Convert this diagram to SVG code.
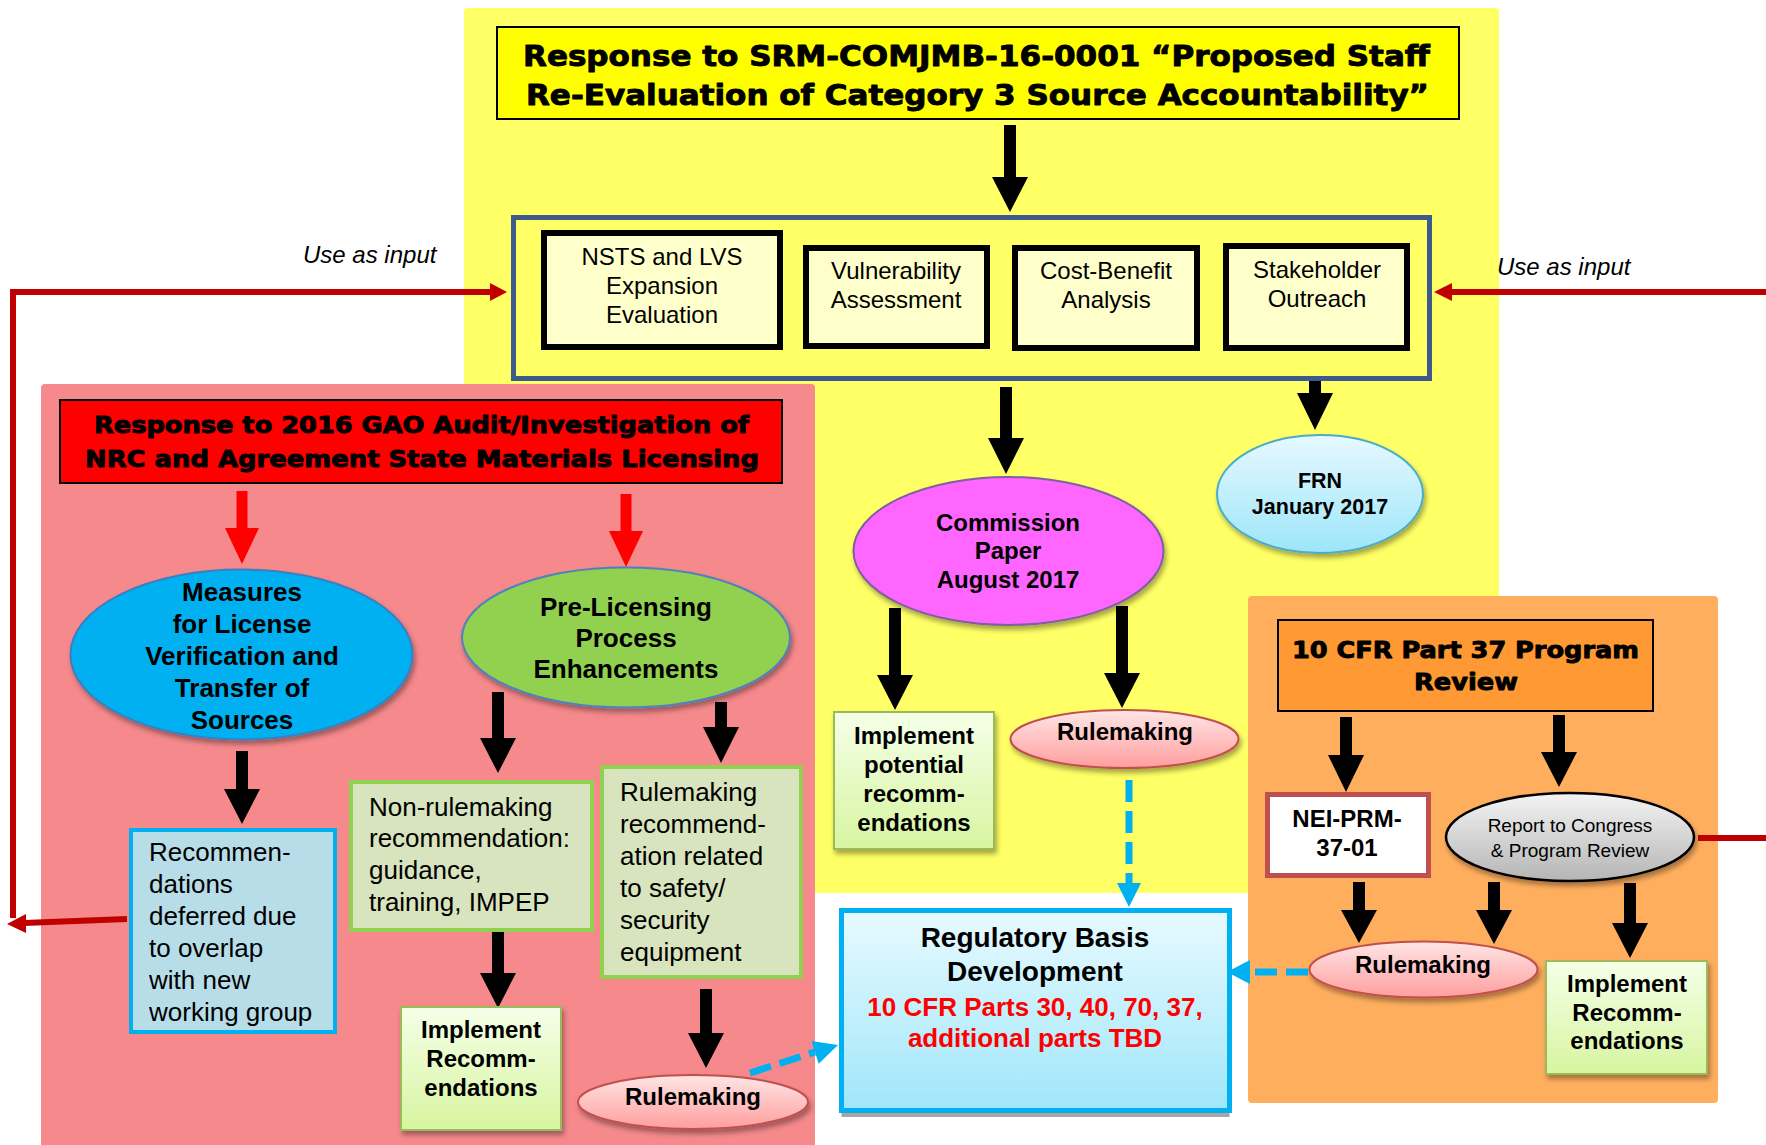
<svg xmlns="http://www.w3.org/2000/svg" width="1766" height="1145" viewBox="0 0 1766 1145">
<defs>
<style>
.t{font-family:"Liberation Sans",Arial,sans-serif;fill:#000}
.b{font-weight:bold}
.i{font-style:italic}
.c{text-anchor:middle}
.h{font-family:"DejaVu Sans","Liberation Sans",sans-serif;font-weight:bold;fill:#000;stroke:#000;stroke-width:0.9;stroke-linejoin:round}
.blk{fill:#000}
.red{fill:#FF0000}
.rl{stroke:#C00000;stroke-width:6;fill:none}
.rh{fill:#C00000}
.dash{stroke:#00B0F0;stroke-width:7;stroke-dasharray:22 9;fill:none}
.dh{fill:#00B0F0}
.wb{fill:#FFFFCC;stroke:#000;stroke-width:6}
.impl{fill:url(#gImpl);stroke:#9BBB59;stroke-width:2}
.rule{fill:url(#gRule);stroke:#C0504D;stroke-width:2}
.grn{fill:#D7E4BD;stroke:#92D050;stroke-width:4}
</style>
<linearGradient id="gImpl" x1="0" y1="0" x2="0" y2="1"><stop offset="0" stop-color="#F5FFE8"/><stop offset="1" stop-color="#D7F5A0"/></linearGradient>
<linearGradient id="gRule" x1="0" y1="0" x2="0" y2="1"><stop offset="0" stop-color="#FFE6E6"/><stop offset="1" stop-color="#FF9E9E"/></linearGradient>
<linearGradient id="gFRN" x1="0" y1="0" x2="0" y2="1"><stop offset="0" stop-color="#E6F9FF"/><stop offset="1" stop-color="#9DE5FA"/></linearGradient>
<linearGradient id="gRep" x1="0" y1="0" x2="0" y2="1"><stop offset="0" stop-color="#F4F4F4"/><stop offset="1" stop-color="#B5B5B5"/></linearGradient>
<linearGradient id="gReg" x1="0" y1="0" x2="0" y2="1"><stop offset="0" stop-color="#E8FAFF"/><stop offset="1" stop-color="#A0E6FA"/></linearGradient>
<filter id="sh" x="-20%" y="-20%" width="140%" height="160%"><feDropShadow dx="2" dy="4" stdDeviation="2.5" flood-color="#000" flood-opacity="0.35"/></filter>
</defs>

<g id="panels">
<rect x="464" y="8" width="1035" height="885" rx="4" fill="#FFFF66"/>
<rect x="41" y="384" width="774" height="770" rx="4" fill="#F5898C"/>
<rect x="1248" y="596" width="470" height="507" rx="4" fill="#FFAE5E"/>
</g>

<g id="labels">
<text class="t i" x="303" y="263" font-size="24">Use as input</text>
<text class="t i" x="1497" y="275" font-size="24">Use as input</text>
</g>

<g id="connectors">
<polygon class="blk" points="1004,125 1016,125 1016,177 1028,177 1010,212 992,177 1004,177"/>
<polygon class="blk" points="1000,387 1012,387 1012,438 1024,438 1006,474 988,438 1000,438"/>
<polygon class="blk" points="1309,351 1321,351 1321,393 1333,393 1315,430 1297,393 1309,393"/>
<polygon class="blk" points="889,608 901,608 901,675 913,675 895,710 877,675 889,675"/>
<polygon class="blk" points="1116,606 1128,606 1128,673 1140,673 1122,708 1104,673 1116,673"/>
<polygon class="red" points="236.5,491 247.5,491 247.5,528 259,528 242,564 225,528 236.5,528"/>
<polygon class="red" points="620.5,494 631.5,494 631.5,531 643,531 626,567 609,531 620.5,531"/>
<polygon class="blk" points="236,751 248,751 248,789 260,789 242,824 224,789 236,789"/>
<polygon class="blk" points="492,692 504,692 504,738 516,738 498,773 480,738 492,738"/>
<polygon class="blk" points="715,702 727,702 727,727 739,727 721,763 703,727 715,727"/>
<polygon class="blk" points="492,930 504,930 504,973 516,973 498,1008 480,973 492,973"/>
<polygon class="blk" points="700,989 712,989 712,1033 724,1033 706,1068 688,1033 700,1033"/>
<polygon class="blk" points="1340,717 1352,717 1352,755 1364,755 1346,792 1328,755 1340,755"/>
<polygon class="blk" points="1553,715 1565,715 1565,752 1577,752 1559,787 1541,752 1553,752"/>
<polygon class="blk" points="1353,882 1365,882 1365,910 1377,910 1359,943 1341,910 1353,910"/>
<polygon class="blk" points="1488,882 1500,882 1500,910 1512,910 1494,944 1476,910 1488,910"/>
<polygon class="blk" points="1624,883 1636,883 1636,923 1648,923 1630,958 1612,923 1624,923"/>
<!-- red feedback connectors -->
<polyline class="rl" points="13,918 13,292 491,292"/>
<polygon class="rh" points="490,283 507,292 490,301"/>
<line class="rl" x1="127" y1="919" x2="24" y2="923"/>
<polygon class="rh" points="26,914 7,924 26,933"/>
<line class="rl" x1="1766" y1="292" x2="1451" y2="292"/>
<polygon class="rh" points="1452,283 1434,292 1452,301"/>
<line class="rl" x1="1698" y1="838" x2="1766" y2="838"/>
<!-- dashed blue connectors -->
<line class="dash" x1="750" y1="1073" x2="815" y2="1052"/>
<polygon class="dh" points="818.7,1063.7 838,1045 811.5,1040.9"/>
<line class="dash" x1="1129" y1="780" x2="1129" y2="884"/>
<polygon class="dh" points="1117,883 1141,883 1129,907"/>
<line class="dash" x1="1308" y1="972" x2="1249" y2="972"/>
<polygon class="dh" points="1250,960 1250,984 1227,972"/>
</g>

<g id="title">
<rect x="497" y="27" width="962" height="92" fill="#FFFF00" stroke="#000" stroke-width="2"/>
<text class="h" x="523" y="66" font-size="28" textLength="907" lengthAdjust="spacingAndGlyphs">Response to SRM-COMJMB-16-0001 “Proposed Staff</text>
<text class="h" x="526" y="105" font-size="28" textLength="903" lengthAdjust="spacingAndGlyphs">Re-Evaluation of Category 3 Source Accountability”</text>
</g>

<g id="evaluation-group">
<rect x="513.5" y="217.5" width="916" height="161" fill="#FFFF66" stroke="#3D5A8A" stroke-width="5"/>
</g>
<g id="nsts">
<rect class="wb" x="544" y="233" width="236" height="114"/>
<text class="t c" font-size="24"><tspan x="662" y="265">NSTS and LVS</tspan><tspan x="662" y="294">Expansion</tspan><tspan x="662" y="323">Evaluation</tspan></text>
</g>
<g id="vulnerability">
<rect class="wb" x="806" y="248" width="181" height="98"/>
<text class="t c" font-size="24"><tspan x="896" y="279">Vulnerability</tspan><tspan x="896" y="308">Assessment</tspan></text>
</g>
<g id="cost-benefit">
<rect class="wb" x="1015" y="248" width="182" height="100"/>
<text class="t c" font-size="24"><tspan x="1106" y="279">Cost-Benefit</tspan><tspan x="1106" y="308">Analysis</tspan></text>
</g>
<g id="stakeholder">
<rect class="wb" x="1226" y="246" width="181" height="102"/>
<text class="t c" font-size="24"><tspan x="1317" y="278">Stakeholder</tspan><tspan x="1317" y="307">Outreach</tspan></text>
</g>

<g id="frn">
<ellipse cx="1320" cy="494" rx="103" ry="59" fill="url(#gFRN)" stroke="#4BACC6" stroke-width="2" filter="url(#sh)"/>
<text class="t b c" font-size="21.5"><tspan x="1320" y="488">FRN</tspan><tspan x="1320" y="514">January 2017</tspan></text>
</g>
<g id="commission">
<ellipse cx="1008.5" cy="551" rx="155" ry="74" fill="#FF66FF" stroke="#7F5FA0" stroke-width="2" filter="url(#sh)"/>
<text class="t b c" font-size="24"><tspan x="1008" y="531">Commission</tspan><tspan x="1008" y="559">Paper</tspan><tspan x="1008" y="588">August 2017</tspan></text>
</g>
<g id="implement-potential">
<rect class="impl" x="834" y="712" width="160" height="137" filter="url(#sh)"/>
<text class="t b c" font-size="24"><tspan x="914" y="744">Implement</tspan><tspan x="914" y="773">potential</tspan><tspan x="914" y="802">recomm-</tspan><tspan x="914" y="831">endations</tspan></text>
</g>
<g id="rulemaking-commission">
<ellipse class="rule" cx="1124.5" cy="739" rx="114" ry="29" filter="url(#sh)"/>
<text class="t b c" x="1125" y="740" font-size="24">Rulemaking</text>
</g>
<g id="regulatory-basis">
<rect x="841.5" y="917" width="388" height="200" fill="#A6A6A6"/>
<rect x="841.5" y="910.5" width="388" height="200" fill="url(#gReg)" stroke="#00B0F0" stroke-width="5"/>
<text class="t b c" font-size="28"><tspan x="1035" y="947">Regulatory Basis</tspan><tspan x="1035" y="981">Development</tspan></text>
<text class="t b c" font-size="26" style="fill:#FF0000"><tspan x="1035" y="1016">10 CFR Parts 30, 40, 70, 37,</tspan><tspan x="1035" y="1047">additional parts TBD</tspan></text>
</g>

<g id="gao">
<rect x="60" y="400" width="722" height="83" fill="#FF0000" stroke="#000" stroke-width="2"/>
<text class="h" x="94" y="433" font-size="23" textLength="655" lengthAdjust="spacingAndGlyphs">Response to 2016 GAO Audit/Investigation of</text>
<text class="h" x="85" y="467" font-size="23" textLength="674" lengthAdjust="spacingAndGlyphs">NRC and Agreement State Materials Licensing</text>
</g>
<g id="measures">
<ellipse cx="241.5" cy="654.5" rx="171" ry="85" fill="#00B0F0" stroke="#3A7FC0" stroke-width="2" filter="url(#sh)"/>
<text class="t b c" font-size="26"><tspan x="242" y="601">Measures</tspan><tspan x="242" y="633">for License</tspan><tspan x="242" y="665">Verification and</tspan><tspan x="242" y="697">Transfer of</tspan><tspan x="242" y="729">Sources</tspan></text>
</g>
<g id="pre-licensing">
<ellipse cx="626" cy="637.5" rx="164" ry="70" fill="#92D050" stroke="#4F81BD" stroke-width="2" filter="url(#sh)"/>
<text class="t b c" font-size="26"><tspan x="626" y="616">Pre-Licensing</tspan><tspan x="626" y="647">Process</tspan><tspan x="626" y="678">Enhancements</tspan></text>
</g>
<g id="deferred">
<rect x="131" y="830" width="204" height="202" fill="#B7DDE8" stroke="#00B0F0" stroke-width="4"/>
<text class="t" font-size="26"><tspan x="149" y="861">Recommen-</tspan><tspan x="149" y="893">dations</tspan><tspan x="149" y="925">deferred due</tspan><tspan x="149" y="957">to overlap</tspan><tspan x="149" y="989">with new</tspan><tspan x="149" y="1021">working group</tspan></text>
</g>
<g id="non-rulemaking">
<rect class="grn" x="351" y="782" width="241" height="148"/>
<text class="t" font-size="26"><tspan x="369" y="816">Non-rulemaking</tspan><tspan x="369" y="847">recommendation:</tspan><tspan x="369" y="879">guidance,</tspan><tspan x="369" y="911">training, IMPEP</tspan></text>
</g>
<g id="rulemaking-recommendation">
<rect class="grn" x="602" y="767" width="199" height="210"/>
<text class="t" font-size="26"><tspan x="620" y="801">Rulemaking</tspan><tspan x="620" y="833">recommend-</tspan><tspan x="620" y="865">ation related</tspan><tspan x="620" y="897">to safety/</tspan><tspan x="620" y="929">security</tspan><tspan x="620" y="961">equipment</tspan></text>
</g>
<g id="implement-gao">
<rect class="impl" x="401" y="1007" width="160" height="123" filter="url(#sh)"/>
<text class="t b c" font-size="24"><tspan x="481" y="1038">Implement</tspan><tspan x="481" y="1067">Recomm-</tspan><tspan x="481" y="1096">endations</tspan></text>
</g>
<g id="rulemaking-gao">
<ellipse class="rule" cx="693" cy="1102" rx="115" ry="27" filter="url(#sh)"/>
<text class="t b c" x="693" y="1105" font-size="24">Rulemaking</text>
</g>

<g id="part37">
<rect x="1278" y="620" width="375" height="91" fill="#FF9933" stroke="#000" stroke-width="2"/>
<text class="h" x="1292" y="658" font-size="23" textLength="347" lengthAdjust="spacingAndGlyphs">10 CFR Part 37 Program</text>
<text class="h" x="1414" y="690" font-size="23" textLength="104" lengthAdjust="spacingAndGlyphs">Review</text>
</g>
<g id="nei">
<rect x="1267.5" y="794.5" width="161" height="81" fill="#FFFFFF" stroke="#C0504D" stroke-width="5"/>
<text class="t b c" font-size="24"><tspan x="1347" y="827">NEI-PRM-</tspan><tspan x="1347" y="856">37-01</tspan></text>
</g>
<g id="report">
<ellipse cx="1570" cy="837" rx="124" ry="44" fill="url(#gRep)" stroke="#000" stroke-width="2.5" filter="url(#sh)"/>
<text class="t c" font-size="19"><tspan x="1570" y="832">Report to Congress</tspan><tspan x="1570" y="857">&amp; Program Review</tspan></text>
</g>
<g id="rulemaking-part37">
<ellipse class="rule" cx="1423.5" cy="969.5" rx="114" ry="28" filter="url(#sh)"/>
<text class="t b c" x="1423" y="973" font-size="24">Rulemaking</text>
</g>
<g id="implement-part37">
<rect class="impl" x="1546" y="961" width="161" height="113" filter="url(#sh)"/>
<text class="t b c" font-size="24"><tspan x="1627" y="992">Implement</tspan><tspan x="1627" y="1021">Recomm-</tspan><tspan x="1627" y="1049">endations</tspan></text>
</g>
</svg>
